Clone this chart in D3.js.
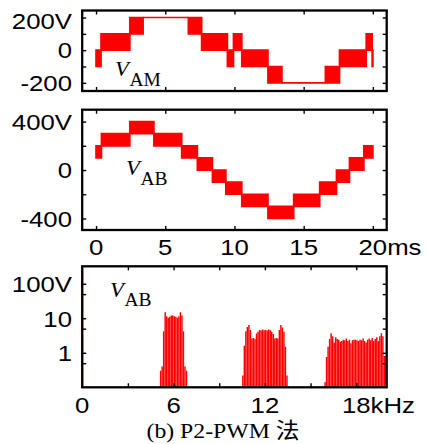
<!DOCTYPE html>
<html><head><meta charset="utf-8">
<script src="https://cdn.jsdelivr.net/npm/d3@7"></script>
<style>html,body{margin:0;padding:0;background:#fff;} svg{display:block;}</style>
</head><body><svg id="chart" width="426" height="444"></svg>
<script>
// ---- phase voltage V_AM: PWM intervals [edge_i, edge_i+1] (ms) switching between low/high levels (V)
const vamEdges = [0, 0.36, 2.44, 3.40, 6.67, 7.63, 9.49, 9.93, 10.53, 12.42, 13.43, 16.57, 17.59, 19.52, 19.95, 20.0];
const vamLow  = [-100, 0, 100, 200, 100, 0, -100, 0, -100, -200, -200, -200, -100, 0, -100];
const vamHigh = [0, 100, 200, 200, 200, 100, 0, 100, 0, -100, -200, -100, 0, 100, 0];

// ---- line voltage V_AB
const vabEdges = [0, 0.39, 2.44, 4.18, 6.19, 7.32, 8.41, 9.38, 10.53, 12.42, 14.28, 16.16, 17.37, 18.31, 19.35, 20.0];
const vabLow  = [100, 200, 300, 200, 100, 0, -100, -200, -300, -400, -300, -200, -100, 0, 100];
const vabHigh = [200, 300, 400, 300, 200, 100, 0, -100, -200, -300, -200, -100, 0, 100, 200];

// ---- harmonic spectrum of V_AB: frequency (kHz) and amplitude (V)
const fundFreq = [0.05];
const fundAmp = [400];
const band1Freq = [5.15, 5.25, 5.35, 5.45, 5.55, 5.65, 5.75, 5.85, 5.95, 6.05, 6.15, 6.25, 6.35, 6.45, 6.55, 6.65, 6.75, 6.85];
const band1Amp  = [0.3, 0.4, 4.2, 15, 11.4, 10.4, 11, 12, 12, 11.5, 11, 10.4, 11.4, 15, 12, 4.2, 0.4, 0.3];
const band2Freq = [10.55, 10.65, 10.75, 10.85, 10.95, 11.05, 11.15, 11.25, 11.35, 11.45, 11.55, 11.65, 11.75, 11.85, 11.95,
                   12.05, 12.15, 12.25, 12.35, 12.45, 12.55, 12.65, 12.75, 12.85, 12.95, 13.05, 13.15, 13.25, 13.35, 13.45];
const band2Amp  = [0.22, 1.6, 4.2, 5.6, 6.4, 4.6, 2.6, 2.7, 2.5, 3.6, 4.1, 4.6, 4.4, 4.7, 4.5,
                   4.6, 4.4, 4.7, 4.5, 4.1, 3.5, 2.6, 2.7, 2.6, 4.6, 6.4, 5.4, 4.1, 1.5, 0.22];
const band3Freq = [15.95, 16.05, 16.15, 16.25, 16.35, 16.45, 16.55, 16.65, 16.75, 16.85, 16.95, 17.05, 17.15, 17.25,
                   17.35, 17.45, 17.55, 17.65, 17.75, 17.85, 17.95, 18.05, 18.15, 18.25, 18.35, 18.45, 18.55, 18.65,
                   18.75, 18.85, 18.95, 19.05, 19.15, 19.25, 19.35, 19.45, 19.55, 19.65, 19.75, 19.85, 19.95];
const band3Amp  = [0.14, 0.75, 1.5, 2.5, 3.7, 3.0, 2.0, 2.8, 2.5, 2.4, 2.1, 2.2, 2.4, 2.3,
                   2.6, 2.2, 2.4, 1.9, 2.3, 2.4, 2.4, 2.3, 2.2, 2.4, 2.3, 2.6, 2.2, 2.0,
                   2.4, 2.6, 2.3, 2.7, 2.2, 2.5, 2.8, 2.2, 3.0, 3.7, 3.0, 0.8, 0.8];

// ---- axis ticks and labels
const timeTicks = [0, 5, 10, 15, 20];
const timeLabelNums = ["0", "5", "10", "15", "20"];
const timeLabelUnits = ["", "", "", "", "ms"];
const vamTicks = [-200, -100, 0, 100, 200];
const vamLabelVals = [200, 0, -200];
const vamLabels = ["200V", "0", "-200"];
const vabTicks = [-400, -200, 0, 200, 400];
const vabLabelVals = [400, 0, -400];
const vabLabels = ["400V", "0", "-400"];
const freqTicks = [3, 6, 9, 12, 15, 18];
const freqLabelVals = [0, 6, 12, 18];
const freqLabelNums = ["0", "6", "12", "18"];
const freqLabelUnits = ["", "", "", "kHz"];
const specTicks = [0.5, 1, 5, 10, 50, 100];
const specLabelVals = [100, 10, 1];
const specLabels = ["100V", "10", "1"];

const RED = "#ff0000";
const SANS = "'Liberation Sans', Arial, Helvetica, sans-serif";
const SERIF = "'Liberation Serif', 'Times New Roman', serif";
const SX = 1.12; // horizontal stretch of the label lettering

const svg = d3.select("#chart");
const X0 = 82.2, X1 = 386.7;

const xTime = d3.scaleLinear().domain([-1, 21]).range([X0, X1]);
const yAM = d3.scaleLinear().domain([-250, 243]).range([91, 10.5]);
const yAB = d3.scaleLinear().domain([-495, 498]).range([230, 109.7]);
const xFreq = d3.scaleLinear().domain([0, 20]).range([X0, X1]);
const ySpec = d3.scaleLog().domain([0.1, 320]).range([387.3, 266.3]);

function clipFor(id, y) {
  svg.append("clipPath").attr("id", id).append("rect")
    .attr("x", X0).attr("y", y.range()[1]).attr("width", X1 - X0).attr("height", y.range()[0] - y.range()[1]);
  return svg.append("g").attr("clip-path", `url(#${id})`);
}

function frameAndTicks(x, y, xt, yt) {
  const yb = y.range()[0], ytop = y.range()[1];
  const mk = (axis, tr) => {
    const g = svg.append("g").attr("transform", tr).call(axis);
    g.select(".domain").remove();
    g.selectAll("text").remove();
    g.selectAll("line").attr("stroke", "#000").attr("stroke-width", 1.4);
  };
  mk(d3.axisBottom(x).tickValues(xt).tickSize(-4), `translate(0,${yb})`);
  mk(d3.axisTop(x).tickValues(xt).tickSize(-4), `translate(0,${ytop})`);
  mk(d3.axisLeft(y).tickValues(yt).tickSize(-4), `translate(${X0},0)`);
  mk(d3.axisRight(y).tickValues(yt).tickSize(-4), `translate(${X1},0)`);
  svg.append("rect").attr("x", X0).attr("y", ytop).attr("width", X1 - X0).attr("height", yb - ytop)
    .attr("fill", "none").attr("stroke", "#000").attr("stroke-width", 2.3);
}

function yLabels(y, vals, texts, nudgeTop) {
  vals.forEach((v, i) => {
    const dy = (nudgeTop && i === 0) ? 3.4 : 0;
    svg.append("text")
      .attr("transform", `translate(72,${y(v) + 8.3 + dy}) scale(${SX},1)`)
      .attr("text-anchor", "end").attr("font-family", SANS).attr("font-size", 23)
      .attr("fill", "#000").text(texts[i]);
  });
}

function xLabels(x, vals, nums, units, baseline) {
  vals.forEach((v, i) => {
    const t = svg.append("text")
      .attr("font-family", SANS).attr("font-size", 23).attr("fill", "#000");
    const n = t.append("tspan").text(nums[i]);
    if (units[i]) t.append("tspan").text(units[i]);
    const w = n.node().getComputedTextLength();
    t.attr("x", -w / 2).attr("transform", `translate(${x(v)},${baseline}) scale(${SX},1)`);
  });
}

function vName(x, y, sub) {
  const t = svg.append("text").attr("transform", `translate(${x},${y}) scale(1.08,1)`)
    .attr("font-family", SERIF).attr("fill", "#000");
  t.append("tspan").attr("font-style", "italic").attr("font-size", 21).text("V");
  t.append("tspan").attr("font-size", 18).attr("dy", 9.5).attr("dx", 0.5).text(sub);
}

// each interval is outlined as a closed path so that flat (non-switching) intervals still show as a line
function pwmBlocks(g, edges, lo, hi, y) {
  const segs = lo.map((l, i) => ({ t0: edges[i], t1: edges[i + 1], lo: l, hi: hi[i] }));
  g.selectAll(null).data(segs).join("path")
    .attr("d", d => {
      const a = xTime(d.t0), b = xTime(d.t1), top = y(d.hi), bot = y(d.lo);
      return `M${a},${top}H${b}V${bot}H${a}Z`;
    })
    .attr("fill", RED).attr("stroke", RED).attr("stroke-width", 1.7).attr("stroke-linejoin", "miter");
}

// ---- panel 1: V_AM
const g1 = clipFor("c1", yAM);
pwmBlocks(g1, vamEdges, vamLow, vamHigh, yAM);
frameAndTicks(xTime, yAM, timeTicks, vamTicks);
yLabels(yAM, vamLabelVals, vamLabels, true);
vName(115, 76, "AM");

// ---- panel 2: V_AB
const g2 = clipFor("c2", yAB);
pwmBlocks(g2, vabEdges, vabLow, vabHigh, yAB);
frameAndTicks(xTime, yAB, timeTicks, vabTicks);
yLabels(yAB, vabLabelVals, vabLabels, false);
xLabels(xTime, timeTicks, timeLabelNums, timeLabelUnits, 254.5);
vName(126, 175, "AB");

// ---- panel 3: spectrum
const g3 = clipFor("c3", ySpec);
const lines = [];
[[band1Freq, band1Amp], [band2Freq, band2Amp], [band3Freq, band3Amp]].forEach(([f, a]) =>
  f.forEach((fr, i) => lines.push({ f: fr, a: a[i] })));
g3.selectAll(null).data(fundFreq.map((f, i) => ({ f, a: fundAmp[i] }))).join("line")
  .attr("x1", d => xFreq(d.f)).attr("x2", d => xFreq(d.f))
  .attr("y1", ySpec(0.1)).attr("y2", d => ySpec(d.a))
  .attr("stroke", RED).attr("stroke-opacity", 0.45).attr("stroke-width", 1);
g3.selectAll(null).data(lines).join("line")
  .attr("x1", d => xFreq(d.f)).attr("x2", d => xFreq(d.f))
  .attr("y1", ySpec(0.1)).attr("y2", d => ySpec(d.a))
  .attr("stroke", RED).attr("stroke-width", 1.45);
frameAndTicks(xFreq, ySpec, freqTicks, specTicks);
yLabels(ySpec, specLabelVals, specLabels, false);
xLabels(xFreq, freqLabelVals, freqLabelNums, freqLabelUnits, 413);
vName(110, 296.7, "AB");

// ---- caption
const cap = svg.append("text").attr("transform", `translate(223,438) scale(1.08,1)`)
  .attr("text-anchor", "middle").attr("font-size", 22).attr("fill", "#000");
cap.append("tspan").attr("font-family", SERIF).text("(b) P2-PWM ");
cap.append("tspan").attr("font-family", "'Noto Sans CJK SC', sans-serif").text("法");
</script></body></html>
